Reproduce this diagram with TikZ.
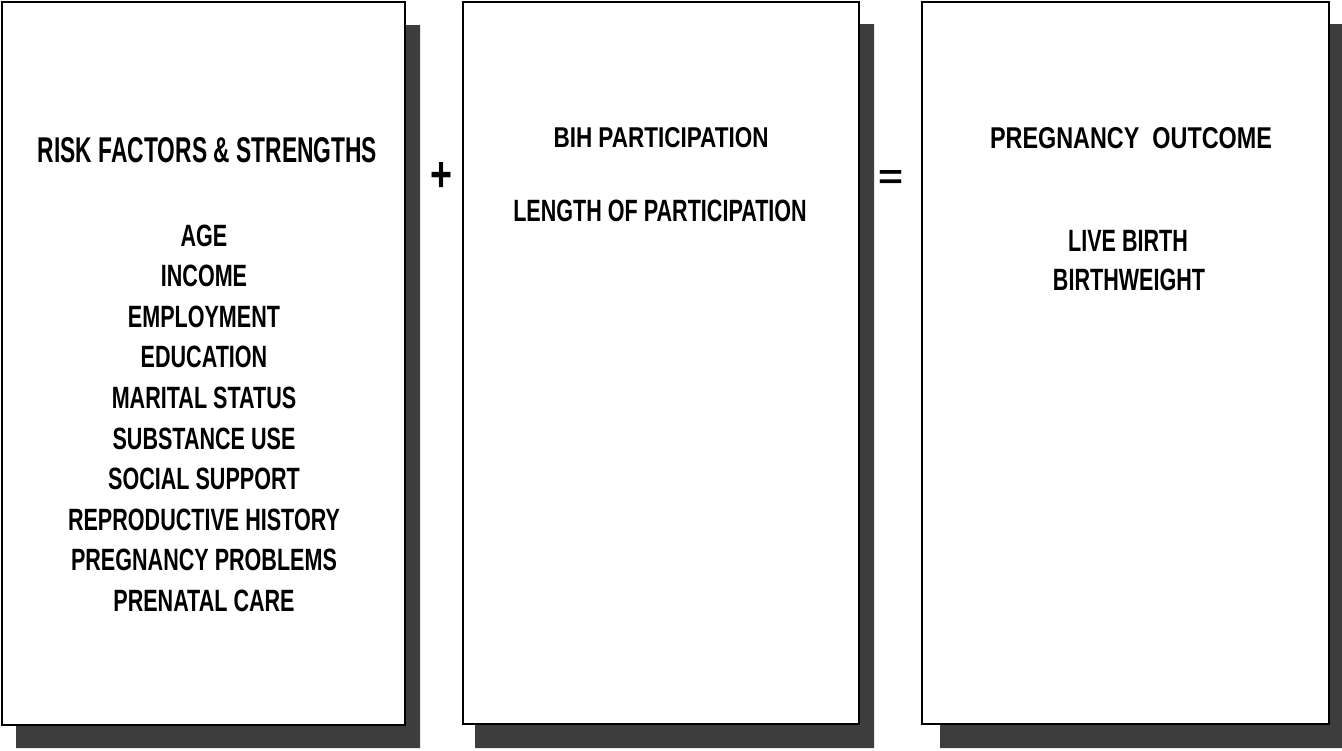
\documentclass[tikz,border=0pt]{standalone}
\usepackage{fontspec}
\usepackage{graphicx}
\setmainfont{Liberation Sans}
\newfontfamily\narrowf{Liberation Sans}[FakeStretch=0.70]
\begin{document}
\begin{tikzpicture}[x=0.5pt,y=-0.5pt,
  panel/.style={draw=black,line width=1pt,fill=white,rectangle,inner sep=0pt,anchor=north west},
  shade/.style={fill=black!76,draw=none},
  item/.style={inner sep=0pt,anchor=base,font=\narrowf\bfseries\fontsize{15.4pt}{18pt}\selectfont},
  ttl/.style={inner sep=0pt,anchor=center,font=\narrowf\bfseries},
  sym/.style={inner sep=0pt,anchor=center,font=\bfseries}]
\useasboundingbox[fill=white] (0,0) rectangle (1342,750);
% shadows
\fill[shade] (404,25) -- (420,25) -- (420,748) -- (16,748) -- (16,724) -- (404,724) -- cycle;
\fill[shade] (858,24) -- (874,24) -- (874,748) -- (475,748) -- (475,723) -- (858,723) -- cycle;
\fill[shade] (1328,24) -- (1342,24) -- (1342,748) -- (940,748) -- (940,723) -- (1328,723) -- cycle;
% panels
\node[panel,minimum width=201.5pt,minimum height=361.5pt] (p1) at (1,1) {};
\node[panel,minimum width=198pt,minimum height=361pt] (p2) at (462,1) {};
\node[panel,minimum width=203.5pt,minimum height=361pt] (p3) at (921,1) {};
% titles
\node[ttl] (t1) at (207.5,150.5) {\resizebox{169.5pt}{12.5pt}{RISK FACTORS \& STRENGTHS}};
\node[ttl] (t2) at (661,138) {\resizebox{107.5pt}{10pt}{BIH PARTICIPATION}};
\node[ttl] (t3) at (1131,138) {\resizebox{141pt}{10.5pt}{PREGNANCY\ \ OUTCOME}};
% items box 1
\foreach \txt [count=\k from 0] in {AGE,INCOME,EMPLOYMENT,EDUCATION,MARITAL STATUS,SUBSTANCE USE,SOCIAL SUPPORT,REPRODUCTIVE HISTORY,PREGNANCY PROBLEMS,PRENATAL CARE}
  \node[item] (i\k) at (204,246+40.6*\k) {\txt};
% box 2
\node[item] (l1) at (660,221) {LENGTH OF PARTICIPATION};
% box 3
\node[item] (o1) at (1128,251) {LIVE BIRTH};
\node[item] (o2) at (1129,290) {BIRTHWEIGHT};
% operators
\node[sym] (plus) at (441,177) {\resizebox{11pt}{14.5pt}{+}};
\node[sym] (eq) at (891,179) {\resizebox{12.5pt}{9pt}{=}};
\end{tikzpicture}
\end{document}
